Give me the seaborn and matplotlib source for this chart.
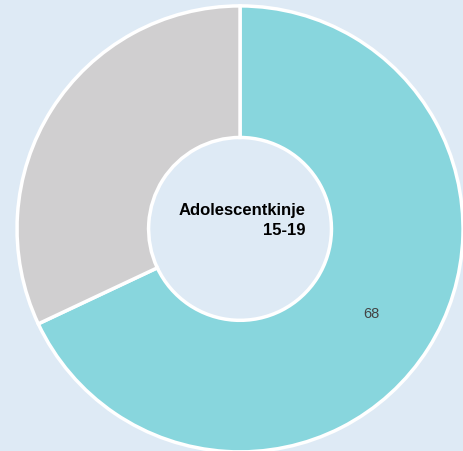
import matplotlib
matplotlib.use("Agg")
import matplotlib.pyplot as plt
import seaborn as sns

# data
categories = ["Adolescentkinje 15-19", "Ostalo"]
values = [68, 32]
labels_shown = ["68", ""]
colors = ["#88D6DD", "#D0CFD0"]
center_title = "Adolescentkinje\n15-19"

sns.set_theme(style="white")
plt.rcParams['font.family'] = ['Liberation Sans', 'DejaVu Sans']

bg = "#DEEAF5"
fig = plt.figure(figsize=(4.64, 4.52), dpi=100, facecolor=bg)
ax = fig.add_axes([0, 0, 1, 1])
ax.set_facecolor(bg)

wedges, texts = ax.pie(values, colors=colors, startangle=90, counterclock=False,
                       labels=labels_shown, labeldistance=0.70,
                       wedgeprops=dict(width=0.59, edgecolor="white", linewidth=2.5),
                       textprops=dict(color="#444444", fontsize=10.5))
for t in texts:
    t.set_ha("center")
    t.set_va("center")

ax.text(0.293, 0.042, center_title, ha="right", va="center", fontsize=12,
        fontweight="bold", color="black", linespacing=1.45)

ax.set_xlim(-1.076, 1.004)
ax.set_ylim(-0.996, 1.031)
ax.set_aspect("equal")
ax.axis("off")

fig.savefig("out.png", dpi=100, facecolor=bg)
